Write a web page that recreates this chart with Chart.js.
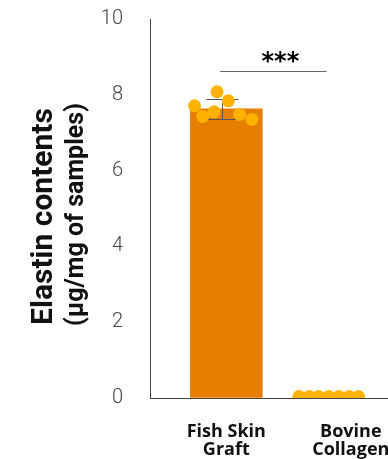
<!DOCTYPE html>
<html>
<head>
<meta charset="utf-8">
<script src="https://cdn.jsdelivr.net/npm/chart.js@4"></script>
<style>
  html, body { margin: 0; padding: 0; background: #fff; overflow: hidden; }
  #wrap { width: 430px; height: 459px; }
</style>
</head>
<body>
<div id="wrap"><canvas id="myChart"></canvas></div>
<script>
// groups and their x position on the axis
const categories = [["Fish Skin", "Graft"], ["Bovine", "Collagen"]];
const groupX = [1, 2];
const labelX = [1, 2.216];

// bar heights (mean) and error (SD)
const means = [7.63, 0.04];
const sds = [0.26, 0];

// individual samples, x jitter around each group
const fishValues = [7.71, 7.43, 7.55, 8.08, 7.84, 7.48, 7.35];
const fishJitter = [-0.31, -0.23, -0.12, -0.09, 0.02, 0.13, 0.25];
const bovineValues = [0.04, 0.04, 0.04, 0.04, 0.04, 0.04, 0.04];
const bovineJitter = [-0.29, -0.19, -0.1, 0, 0.1, 0.2, 0.29];

const yTicks = [0, 2, 4, 6, 8, 10];
const sig = { from: 0.94, to: 1.98, y: 8.62, text: "***" };

const barColor = "#E67E00";
const dotColor = "#FFB300";

const points = [];
fishValues.forEach((v, i) => points.push({ x: groupX[0] + fishJitter[i], y: v }));
bovineValues.forEach((v, i) => points.push({ x: groupX[1] + bovineJitter[i], y: v }));

const extras = {
  id: "extras",
  afterDatasetDraw(chart, args) {
    if (args.index !== 1) return;
    const ctx = chart.ctx;
    const xs = chart.scales.x, ys = chart.scales.y;
    ctx.save();
    ctx.strokeStyle = "#555";
    ctx.lineWidth = 1;
    means.forEach((m, i) => {
      if (!sds[i]) return;
      const cx = Math.round(xs.getPixelForValue(groupX[i])) - 3.5;
      const top = Math.round(ys.getPixelForValue(m + sds[i])) + 0.5;
      const bot = Math.round(ys.getPixelForValue(m - sds[i])) + 0.5;
      ctx.beginPath();
      ctx.moveTo(cx, top); ctx.lineTo(cx, bot);
      ctx.moveTo(cx - 16, top); ctx.lineTo(cx + 16, top);
      ctx.moveTo(cx - 16, bot); ctx.lineTo(cx + 16, bot);
      ctx.stroke();
    });
    ctx.restore();
  },
  afterDraw(chart) {
    const ctx = chart.ctx;
    const xs = chart.scales.x, ys = chart.scales.y;
    ctx.save();
    // significance bracket
    const y = Math.round(ys.getPixelForValue(sig.y)) + 0.5;
    ctx.strokeStyle = "#666";
    ctx.lineWidth = 1.2;
    ctx.beginPath();
    ctx.moveTo(xs.getPixelForValue(sig.from), y);
    ctx.lineTo(xs.getPixelForValue(sig.to), y);
    ctx.stroke();
    ctx.fillStyle = "#000";
    ctx.font = "bold 24px 'DejaVu Sans'";
    ctx.textAlign = "center";
    ctx.textBaseline = "middle";
    ctx.fillText(sig.text, (xs.getPixelForValue(sig.from) + xs.getPixelForValue(sig.to)) / 2 + 7, y - 9);

    // y axis title, two lines with different sizes
    const mid = (chart.chartArea.top + chart.chartArea.bottom) / 2;
    ctx.rotate(-Math.PI / 2);
    ctx.fillStyle = "#111";
    ctx.font = "bold 30px Roboto";
    ctx.fillText("Elastin contents", -(mid + 8), 44);
    ctx.font = "bold 25px Roboto";
    ctx.fillText("(μg/mg of samples)", -(mid + 6), 77);
    ctx.restore();
  }
};

new Chart("myChart", {
  type: "bar",
  data: {
    datasets: [
      {
        type: "scatter",
        data: points,
        backgroundColor: dotColor,
        borderWidth: 0,
        pointRadius: 6.5,
        pointHoverRadius: 6.5,
        clip: 0,
        order: 1,
      },
      {
        data: groupX.map((x, i) => ({ x: x, y: means[i] })),
        backgroundColor: barColor,
        barThickness: 72,
        order: 2,
      },
    ],
  },
  options: {
    responsive: true,
    maintainAspectRatio: false,
    animation: false,
    layout: { padding: 0 },
    plugins: { legend: { display: false }, tooltip: { enabled: false } },
    scales: {
      x: {
        type: "linear",
        offset: false,
        min: 0.255,
        max: 2.926,
        grid: { display: false, drawTicks: false },
        border: { display: true, color: "#444", width: 1 },
        afterBuildTicks: (axis) => { axis.ticks = labelX.map(v => ({ value: v })); },
        afterFit: (axis) => { axis.height = 61; },
        ticks: {
          padding: 25,
          maxRotation: 0,
          autoSkip: false,
          color: "#111",
          font: { family: "Open Sans", size: 18, weight: "bold", lineHeight: 1.0 },
          callback: (v) => categories[labelX.indexOf(v)],
        },
      },
      y: {
        min: 0,
        max: 10,
        grid: {
          display: true,
          drawOnChartArea: false,
          drawTicks: true,
          tickLength: 20,
          tickColor: "rgba(0,0,0,0)",
          color: "rgba(0,0,0,0)",
        },
        border: { display: true, color: "#444", width: 1 },
        afterBuildTicks: (axis) => { axis.ticks = yTicks.map(v => ({ value: v })); },
        afterFit: (axis) => { axis.width = 150; },
        ticks: {
          padding: 7,
          color: "#444",
          font: { family: "Roboto", size: 20, weight: "300" },
        },
      },
    },
  },
  plugins: [extras],
});
</script>
</body>
</html>
